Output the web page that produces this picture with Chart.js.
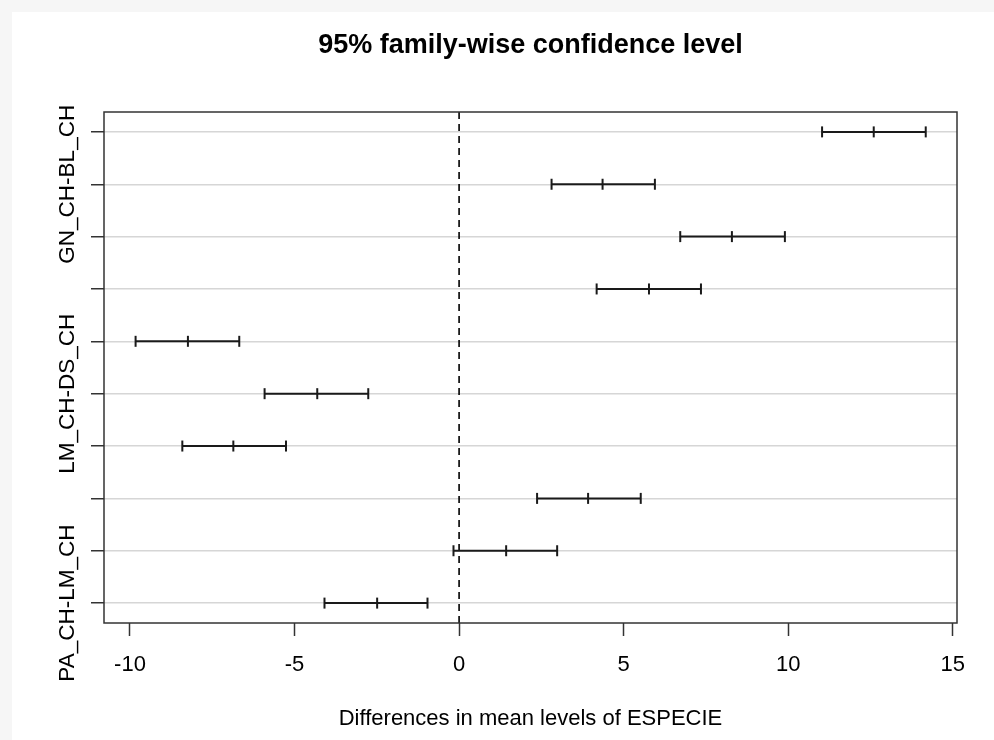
<!DOCTYPE html>
<html>
<head>
<meta charset="utf-8">
<title>95% family-wise confidence level</title>
<script src="https://cdn.jsdelivr.net/npm/chart.js@4.4.1/dist/chart.umd.min.js"></script>
<style>
  html, body { margin: 0; padding: 0; background: #f6f6f6; }
  #panel { position: absolute; left: 12px; top: 12px; width: 982px; height: 728px; background: #fff; }
  canvas { display: block; }
</style>
</head>
<body>
<div id="panel"><canvas id="tukey" width="982" height="728"></canvas></div>
<script>
// TukeyHSD comparisons, top to bottom
const comparisons = [
  "DS_CH-BL_CH", "GN_CH-BL_CH", "LM_CH-BL_CH", "PA_CH-BL_CH", "GN_CH-DS_CH",
  "LM_CH-DS_CH", "PA_CH-DS_CH", "LM_CH-GN_CH", "PA_CH-GN_CH", "PA_CH-LM_CH"
];
// rows that got a label in the original plot (the rest overlapped)
const labelledRows = [2, 6, 10];

// difference in means and the confidence interval ends
const diff = [12.60, 4.36, 8.29, 5.77, -8.24, -4.31, -6.86, 3.92, 1.43, -2.49];
const lwr  = [11.03, 2.81, 6.72, 4.18, -9.83, -5.91, -8.41, 2.37, -0.17, -4.09];
const upr  = [14.18, 5.95, 9.90, 7.35, -6.68, -2.76, -5.26, 5.52, 2.98, -0.96];

const xTicks = [-10, -5, 0, 5, 10, 15];
const xMin = -10.79, xMax = 15.13;
const yMin = 0.62, yMax = 10.38;

const chartTitle = "95% family-wise confidence level";
const xTitle = "Differences in mean levels of ESPECIE";

const FONT = "'Liberation Sans', Arial, sans-serif";

// datasets: one per interval, plus the dashed zero line
const datasets = comparisons.map((name, i) => ({
  label: name,
  data: [
    { x: lwr[i], y: i + 1 },
    { x: diff[i], y: i + 1 },
    { x: upr[i], y: i + 1 }
  ],
  showLine: true,
  borderColor: "#1a1a1a",
  borderWidth: 2,
  pointStyle: "line",
  pointRotation: 90,
  pointRadius: 5.5,
  pointHoverRadius: 5.5,
  pointBorderWidth: 2,
  pointBorderColor: "#1a1a1a"
}));
datasets.push({
  label: "zero",
  data: [{ x: 0, y: yMin }, { x: 0, y: yMax }],
  showLine: true,
  borderColor: "#000",
  borderWidth: 1.6,
  borderDash: [7, 5],
  pointRadius: 0,
  pointHoverRadius: 0
});

// rotated labels on the y axis
const yLabelsPlugin = {
  id: "yLabels",
  afterDraw(chart) {
    const ctx = chart.ctx;
    const ys = chart.scales.y;
    ctx.save();
    ctx.font = "22.5px " + FONT;
    ctx.fillStyle = "#000";
    ctx.textAlign = "center";
    ctx.textBaseline = "alphabetic";
    labelledRows.forEach(row => {
      ctx.save();
      ctx.translate(62, ys.getPixelForValue(row));
      ctx.rotate(-Math.PI / 2);
      ctx.fillText(comparisons[row - 1], 0, 0);
      ctx.restore();
    });
    ctx.restore();
  }
};

// box around the plot region
const framePlugin = {
  id: "frame",
  afterDatasetsDraw(chart) {
    const { ctx, chartArea: a } = chart;
    ctx.save();
    ctx.strokeStyle = "#333";
    ctx.lineWidth = 1.5;
    ctx.strokeRect(a.left, a.top, a.right - a.left, a.bottom - a.top);
    ctx.restore();
  }
};

new Chart(document.getElementById("tukey"), {
  type: "scatter",
  data: { datasets: datasets },
  plugins: [yLabelsPlugin, framePlugin],
  options: {
    responsive: false,
    animation: false,
    devicePixelRatio: 1,
    layout: { padding: { left: 0, right: 37, top: 0, bottom: 0 } },
    plugins: {
      legend: { display: false },
      tooltip: { enabled: false },
      title: {
        display: true,
        text: chartTitle,
        fullSize: false,
        color: "#000",
        font: { family: FONT, size: 27, weight: "bold" },
        padding: { top: 17, bottom: 50.6 }
      }
    },
    scales: {
      x: {
        type: "linear",
        position: "bottom",
        min: xMin,
        max: xMax,
        afterBuildTicks: s => { s.ticks = xTicks.map(v => ({ value: v })); },
        ticks: { padding: 16, color: "#000", font: { family: FONT, size: 22 } },
        grid: { drawOnChartArea: false, drawTicks: true, tickLength: 13, tickColor: "#333", tickWidth: 1.5 },
        border: { display: false },
        title: {
          display: true,
          text: xTitle,
          color: "#000",
          font: { family: FONT, size: 22 },
          padding: { top: 0, bottom: 8 }
        },
        afterFit: s => { s.height = 117; }
      },
      y: {
        type: "linear",
        reverse: true,
        min: yMin,
        max: yMax,
        afterBuildTicks: s => { s.ticks = comparisons.map((c, i) => ({ value: i + 1 })); },
        ticks: { display: false },
        grid: { color: "#d6d6d6", lineWidth: 1.5, drawTicks: true, tickLength: 13, tickColor: "#333", tickWidth: 1.5 },
        border: { display: false },
        afterFit: s => { s.width = 92; }
      }
    }
  }
});
</script>
</body>
</html>
